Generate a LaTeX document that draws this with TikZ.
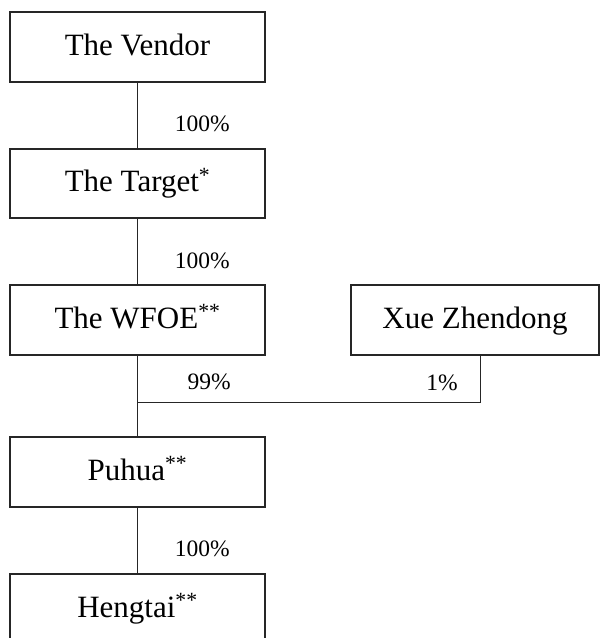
\documentclass[tikz,border=0pt]{standalone}
\usepackage{fontspec}
\setmainfont{Liberation Serif}
\newcommand{\starmark}[1]{\textsuperscript{#1}}
\begin{document}
\begin{tikzpicture}[x=1pt,y=-1pt,
  entity/.style={draw=black!85, line width=2.6pt, minimum width=255pt, minimum height=70pt, inner sep=0pt, text height=22pt, text depth=6pt, font=\fontsize{31}{36}\selectfont},
  share/.style={inner sep=0pt, font=\fontsize{23.5}{28}\selectfont},
  link/.style={draw=black!85, line width=1pt}]
\useasboundingbox (0,0) rectangle (600,638);
\clip (0,0) rectangle (600,638);
\node[entity] (vendor) at (137.5,47) {The Vendor};
\node[entity, minimum height=69pt] (target) at (137.5,183.5) {The Target\starmark{*}};
\node[entity] (wfoe) at (137.5,320) {The WFOE\starmark{**}};
\node[entity, minimum width=248pt] (xue) at (475,320) {Xue Zhendong};
\node[entity] (puhua) at (137.5,472) {Puhua\starmark{**}};
\node[entity] (hengtai) at (137.5,609) {Hengtai\starmark{**}};
\coordinate (jl) at (137.5,402);
\coordinate (jr) at (480,402);
\draw[link] (vendor.south) -- (target.north);
\draw[link] (target.south) -- (wfoe.north);
\draw[link] (wfoe.south) -- (puhua.north);
\draw[link] (jr |- xue.south) -- (jr) -- (jl);
\draw[link] (puhua.south) -- (hengtai.north);
\node[share, anchor=east] (p1) at (230,124) {100\%};
\node[share, anchor=east] (p2) at (230,261) {100\%};
\node[share, anchor=east] (p3) at (231,382) {99\%};
\node[share, anchor=east] (p4) at (458,383) {1\%};
\node[share, anchor=east] (p5) at (230,549) {100\%};
\end{tikzpicture}
\end{document}
